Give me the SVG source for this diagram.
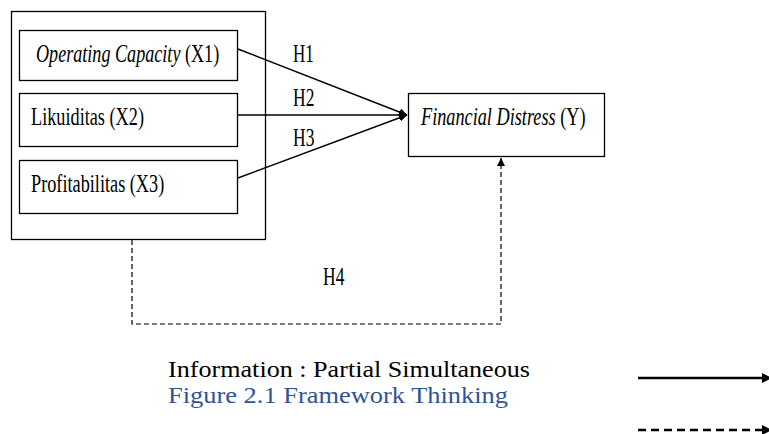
<svg xmlns="http://www.w3.org/2000/svg" width="769" height="434" viewBox="0 0 769 434">
<style>
.box{fill:#fff;stroke:#000;stroke-width:1.3}
.t{font-family:"Liberation Serif","Times New Roman",serif;font-size:25px;fill:#000}
.b{font-family:"Liberation Serif","Times New Roman",serif;font-size:24px;fill:#000}
.i{font-style:italic}
.ln{fill:none;stroke:#000;stroke-width:1.4}
.dash{fill:none;stroke:#000;stroke-width:1.2;stroke-dasharray:5,3}
.leg{fill:none;stroke:#000;stroke-width:2.6}
</style>
<defs>
<marker id="ah" viewBox="0 0 10 10" refX="10" refY="5" markerWidth="8" markerHeight="8" markerUnits="userSpaceOnUse" orient="auto">
<path d="M0,0 L10,5 L0,10 z" fill="#000"/>
</marker>
<marker id="ahL" viewBox="0 0 10 10" refX="0" refY="5" markerWidth="10" markerHeight="12" markerUnits="userSpaceOnUse" orient="auto">
<path d="M0,0 L10,5 L0,10 z" fill="#000"/>
</marker>
</defs>
<g id="group-X">
<rect class="box" x="11.5" y="11.5" width="254" height="228"/>
</g>
<g id="node-X1">
<rect class="box" x="19.5" y="30.5" width="218" height="50"/>
<text class="t" transform="translate(36,62) scale(0.725,1)"><tspan class="i">Operating Capacity</tspan> (X1)</text>
</g>
<g id="node-X2">
<rect class="box" x="19.5" y="93.5" width="218" height="53"/>
<text class="t" transform="translate(31,125) scale(0.73,1)">Likuiditas (X2)</text>
</g>
<g id="node-X3">
<rect class="box" x="19.5" y="160.5" width="218" height="53"/>
<text class="t" transform="translate(31,192) scale(0.73,1)">Profitabilitas (X3)</text>
</g>
<g id="node-Y">
<rect class="box" x="408.5" y="93.5" width="196" height="63"/>
<text class="t" transform="translate(421,125) scale(0.73,1)"><tspan class="i">Financial Distress</tspan> (Y)</text>
</g>
<g id="connectors">
<line class="ln" x1="238" y1="49" x2="407" y2="115" marker-end="url(#ah)"/>
<line class="ln" x1="238" y1="115" x2="407" y2="115" marker-end="url(#ah)"/>
<line class="ln" x1="238" y1="178" x2="407" y2="115" marker-end="url(#ah)"/>
<polyline class="dash" points="132,240 132,324 501,324 501,158" marker-end="url(#ah)"/>
<text class="t" transform="translate(293,62) scale(0.68,1)">H1</text>
<text class="t" transform="translate(293,106) scale(0.7,1)">H2</text>
<text class="t" transform="translate(293,146) scale(0.7,1)">H3</text>
<text class="t" transform="translate(323,285) scale(0.7,1)">H4</text>
</g>
<g id="legend">
<text class="b" x="168" y="377" textLength="362" lengthAdjust="spacingAndGlyphs">Information : Partial Simultaneous</text>
<text class="b" x="168" y="403" textLength="340" lengthAdjust="spacingAndGlyphs" style="fill:#2F5496">Figure 2.1 Framework Thinking</text>
<line class="leg" x1="638" y1="378" x2="762" y2="378" marker-end="url(#ahL)"/>
<line class="leg" x1="638" y1="430" x2="762" y2="430" stroke-dasharray="8,5" marker-end="url(#ahL)"/>
</g>
</svg>
